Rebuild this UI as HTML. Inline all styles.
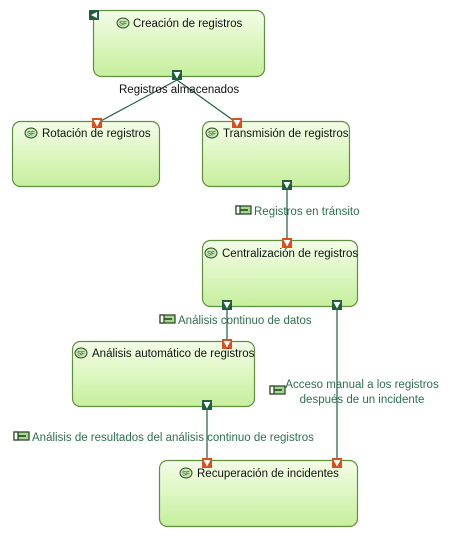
<!DOCTYPE html>
<html><head><meta charset="utf-8"><style>
html,body{margin:0;padding:0;background:#fff;}
svg{display:block;font-family:"Liberation Sans",sans-serif;}
</style></head><body>
<svg width="462" height="540" viewBox="0 0 462 540" xmlns="http://www.w3.org/2000/svg">
<defs>
<linearGradient id="g" x1="0" y1="0" x2="0" y2="1">
<stop offset="0" stop-color="#f4fde8"/><stop offset="1" stop-color="#c6ef9c"/>
</linearGradient>
<g id="sf"><ellipse cx="0" cy="0" rx="6" ry="5" fill="#c8e8b0" stroke="#2f4f2f" stroke-width="1"/><text x="0" y="2.3" font-size="6" text-anchor="middle" fill="#1f3f1f">SF</text></g>
<g id="out"><rect x="-5" y="-5" width="10" height="10" fill="#1f5f3f"/><path d="M-3.5,-3 L3.5,-3 L0,3.5 Z" fill="#fff"/></g>
<g id="in"><rect x="-5" y="-5" width="10" height="10" fill="#d9501e"/><path d="M-3.5,-3 L3.5,-3 L0,3.5 Z" fill="#fff"/></g>
<g id="flow"><rect x="-7" y="-4" width="15" height="8" fill="#a8d890" stroke="#1f3f1f" stroke-width="1.2"/><rect x="-7" y="-4" width="4" height="8" fill="#fff" stroke="#1f3f1f" stroke-width="1.2"/><path d="M-3,0 L5,0" stroke="#1f3f1f" stroke-width="1.5"/></g>
</defs>
<g fill="url(#g)" stroke="#5f8f3f" stroke-width="1.2">
<rect x="93.5" y="10.5" width="171" height="66" rx="8"/>
<rect x="12.5" y="121.5" width="147" height="65" rx="8"/>
<rect x="202.5" y="121.5" width="147" height="65" rx="8"/>
<rect x="202.5" y="240.5" width="155" height="66" rx="8"/>
<rect x="72.5" y="341.5" width="182" height="65" rx="8"/>
<rect x="159.5" y="460.5" width="198" height="66" rx="8"/>
</g>
<path d="M89,10 h10 v10 h-10z" fill="#1f5f3f"/><path d="M97,12 v6 l-6,-3z" fill="#fff"/>
<g stroke="#1f5f3f" stroke-width="1.2" fill="none">
<path d="M177,80 L97,123"/><path d="M177,80 L237,123"/>
<path d="M287,190 L287,243"/>
<path d="M227,310 L227,344"/>
<path d="M337,310 L337,463"/>
<path d="M207,410 L207,463"/>
</g>
<use href="#out" x="177" y="75"/>
<use href="#in" x="97" y="123"/><use href="#in" x="237" y="123"/>
<use href="#out" x="287" y="185"/><use href="#in" x="287" y="243"/>
<use href="#out" x="227" y="305"/><use href="#out" x="337" y="305"/>
<use href="#in" x="227" y="344"/>
<use href="#out" x="207" y="405"/>
<use href="#in" x="207" y="463"/><use href="#in" x="337" y="463"/>
<g font-size="11.5" fill="#111">
<use href="#sf" x="123" y="23"/><text x="133" y="27">Creación de registros</text>
<use href="#sf" x="31" y="133"/><text x="42" y="137">Rotación de registros</text>
<use href="#sf" x="212" y="133"/><text x="223" y="137">Transmisión de registros</text>
<use href="#sf" x="211" y="253"/><text x="222" y="257">Centralización de registros</text>
<use href="#sf" x="81" y="353"/><text x="92" y="357">Análisis automático de registros</text>
<use href="#sf" x="186" y="473"/><text x="197" y="477">Recuperación de incidentes</text>
<text x="119" y="93">Registros almacenados</text>
</g>
<g font-size="11.5" fill="#2f6f4f">
<use href="#flow" x="243" y="210"/><text x="254" y="215">Registros en tránsito</text>
<use href="#flow" x="167" y="319"/><text x="178" y="324">Análisis continuo de datos</text>
<use href="#flow" x="277" y="390"/><text x="362" y="388" text-anchor="middle">Acceso manual a los registros</text><text x="362" y="403" text-anchor="middle">después de un incidente</text>
<use href="#flow" x="21" y="436"/><text x="32" y="441">Análisis de resultados del análisis continuo de registros</text>
</g>
</svg>
</body></html>
